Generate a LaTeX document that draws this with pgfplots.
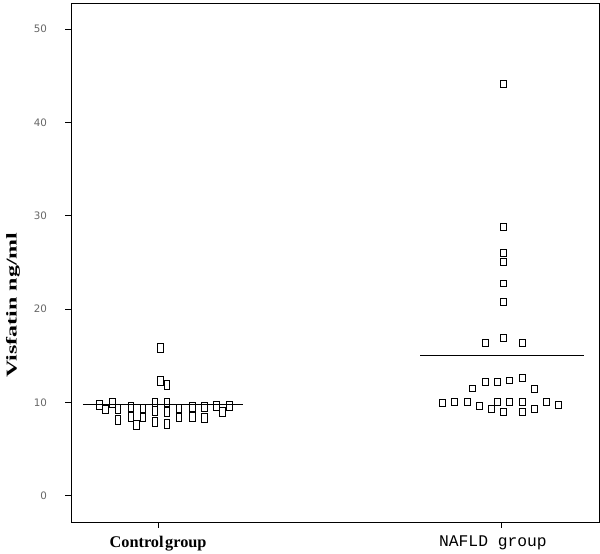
\documentclass[border=0pt]{standalone}
\usepackage{fontspec}
\setmainfont{Liberation Serif}
\newfontfamily\tickfont{DejaVu Sans}
\newfontfamily\monofont{Liberation Mono}
\usepackage{pgfplots}
\pgfplotsset{compat=1.18}
\begin{document}
\begin{tikzpicture}
\begin{axis}[
  name=ax,
  scale only axis,
  width=528pt, height=519pt,
  xmin=0.746, xmax=2.286,
  ymin=-2.82, ymax=52.8,
  axis line style={line width=0.85pt},
  tick align=outside,
  tick style={black, line width=0.85pt},
  major tick length=5.5pt,
  xtick={1,2},
  xticklabels={{\bfseries Control\hspace{1.5pt}group},{\hspace*{-16pt}\monofont NAFLD group}},
  xticklabel style={font=\fontsize{16.3}{17}\selectfont, yshift=-5pt},
  ytick={0,10,20,30,40,50},
  yticklabel style={font=\tickfont\fontsize{10.3}{11}\selectfont, text=black!60, xshift=-15pt},
  /pgf/number format/assume math mode=true,
  xtick pos=bottom, ytick pos=left,
  ylabel={\scalebox{1.6}[1]{\bfseries Visfatin ng/ml}},
  ylabel style={font=\fontsize{15}{16}\selectfont, at={(axis description cs:-0.11,0.418)}, anchor=center, rotate=0},
  clip=false,
]
% Control group
\addplot[only marks, mark=square, mark size=2.9pt, mark options={yscale=1.5, line width=0.85pt, black}] coordinates {
(0.828,9.75) (0.846,9.25) (0.866,9.96) (0.883,9.29) (0.883,8.1)
(0.921,9.5) (0.921,8.45) (0.936,7.55) (0.956,9.28) (0.956,8.45)
(0.991,10.0) (0.991,9.05) (0.991,7.9) (1.006,15.8) (1.006,12.3)
(1.026,11.9) (1.026,10.0) (1.026,9.0) (1.026,7.67) (1.061,9.29)
(1.061,8.45) (1.099,9.54) (1.099,8.45) (1.134,9.5) (1.134,8.3)
(1.169,9.6) (1.187,9.0) (1.207,9.6)
};
% NAFLD group
\addplot[only marks, mark=square, mark size=3pt, mark options={yscale=1.15, line width=0.85pt, black}] coordinates {
(1.828,9.95) (1.863,10.05) (1.901,10.05) (1.936,9.6) (1.971,9.3)
(1.991,10.05) (2.006,9.0) (2.026,10.05) (2.064,10.05) (2.064,9.0)
(2.099,9.3) (2.134,10.05) (2.169,9.75)
(1.918,11.5) (1.956,12.2) (1.991,12.2) (2.026,12.35) (2.064,12.6) (2.099,11.45)
(1.956,16.4) (2.006,16.95) (2.064,16.4)
(2.006,20.8) (2.006,22.75) (2.006,25.05) (2.006,26.0) (2.006,28.8) (2.006,44.1)
};
% median lines
\addplot[black, line width=1.1pt] coordinates {(0.781,9.75) (1.248,9.75)};
\addplot[black, line width=1.1pt] coordinates {(1.764,15.05) (2.242,15.05)};
\end{axis}
\pgfresetboundingbox
\path[use as bounding box] ([xshift=-71pt,yshift=-31pt]ax.south west) rectangle ([xshift=1pt,yshift=3pt]ax.north east);
\end{tikzpicture}
\end{document}
